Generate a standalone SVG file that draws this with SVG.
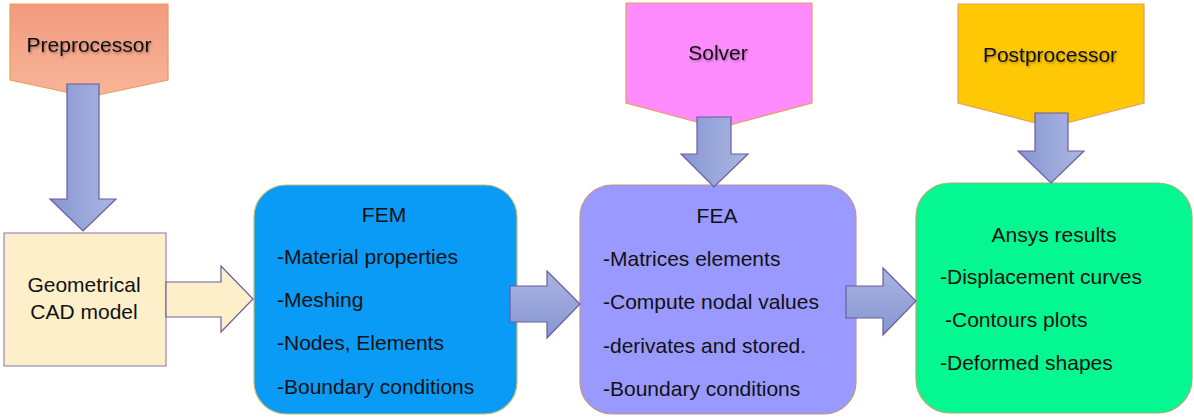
<svg xmlns="http://www.w3.org/2000/svg" width="1194" height="417" viewBox="0 0 1194 417">
  <defs>
    <linearGradient id="gArrowV" x1="0" y1="0" x2="1" y2="0">
      <stop offset="0" stop-color="#8796D2"/>
      <stop offset="1" stop-color="#AAB6E2"/>
    </linearGradient>
    <linearGradient id="gArrowH" x1="0" y1="0" x2="0" y2="1">
      <stop offset="0" stop-color="#A9B4E1"/>
      <stop offset="1" stop-color="#8796D2"/>
    </linearGradient>
    <linearGradient id="gPre" x1="0" y1="0" x2="0" y2="1">
      <stop offset="0" stop-color="#F39A7E"/>
      <stop offset="1" stop-color="#F7B599"/>
    </linearGradient>
    <filter id="shadow" x="-10%" y="-30%" width="120%" height="160%">
      <feDropShadow dx="1" dy="1.5" stdDeviation="1" flood-color="#000" flood-opacity="0.35"/>
    </filter>
  </defs>
  <style>
    text { font-family: "Liberation Sans", Arial, sans-serif; font-size: 21px; fill: #111; }
    .c { text-anchor: middle; }
    .lbl { filter: url(#shadow); }
    .arrow { fill: url(#gArrowV); stroke: #6A5C9E; stroke-width: 1.2; }
    .arrowH { fill: url(#gArrowH); stroke: #6A5C9E; stroke-width: 1.2; }
    .pent { stroke: #E2A060; stroke-width: 1.2; }
  </style>
  <rect width="1194" height="417" fill="#fff"/>

  <g id="preprocessor">
    <polygon class="pent" points="10,4 168,4 168,80 89,97 10,80" fill="url(#gPre)"/>
    <text class="c lbl" x="89" y="52">Preprocessor</text>
  </g>
  <g id="solver">
    <polygon class="pent" points="626,3 812,3 812,103 719,128 626,103" fill="#FF8CFF"/>
    <text class="c lbl" x="718" y="60">Solver</text>
  </g>
  <g id="postprocessor">
    <polygon class="pent" points="958,4 1144,4 1144,103 1051,127 958,103" fill="#FFC805"/>
    <text class="c lbl" x="1050" y="62">Postprocessor</text>
  </g>

  <g id="geometrical">
    <rect x="4" y="233" width="162" height="133" fill="#FDEFCA" stroke="#9A88B8" stroke-width="1.2"/>
    <text class="c" x="84" y="292">Geometrical</text>
    <text class="c" x="84" y="319">CAD model</text>
  </g>
  <g id="fem">
    <rect x="254" y="185" width="263" height="229" rx="32" ry="32" fill="#0A9BF6" stroke="#C8C070" stroke-width="1.2"/>
    <text class="c" x="384" y="222">FEM</text>
    <text x="277" y="264">-Material properties</text>
    <text x="277" y="307">-Meshing</text>
    <text x="277" y="350">-Nodes, Elements</text>
    <text x="277" y="394">-Boundary conditions</text>
  </g>
  <g id="fea">
    <rect x="580" y="185" width="276" height="229" rx="32" ry="32" fill="#9999FF" stroke="#C09880" stroke-width="1.2"/>
    <text class="c" x="717" y="223">FEA</text>
    <text x="603" y="266">-Matrices elements</text>
    <text x="603" y="309">-Compute nodal values</text>
    <text x="603" y="353">-derivates and stored.</text>
    <text x="603" y="396">-Boundary conditions</text>
  </g>
  <g id="ansys">
    <rect x="916" y="183" width="276" height="230" rx="34" ry="34" fill="#05F791" stroke="#A8B070" stroke-width="1.2"/>
    <text class="c" x="1054" y="242">Ansys results</text>
    <text x="940" y="284">-Displacement curves</text>
    <text x="945" y="327">-Contours plots</text>
    <text x="940" y="370">-Deformed shapes</text>
  </g>

  <g id="connectors">
    <polygon class="arrow" points="67,84 99,84 99,199 116,199 83,231 50,199 67,199"/>
    <polygon points="166,282 221,282 221,266 253,299 221,332 221,317 166,317" fill="#FDEFCA" stroke="#6A5C9E" stroke-width="1.2"/>
    <polygon class="arrowH" points="510,286 547,286 547,271 580,304 547,338 547,322 510,322"/>
    <polygon class="arrowH" points="846,286 883,286 883,268 916,301 883,335 883,318 846,318"/>
    <polygon class="arrow" points="697,117 731,117 731,154 748,154 714,187 681,154 697,154"/>
    <polygon class="arrow" points="1035,113 1068,113 1068,151 1084,151 1051,183 1018,151 1035,151"/>
  </g>
</svg>
